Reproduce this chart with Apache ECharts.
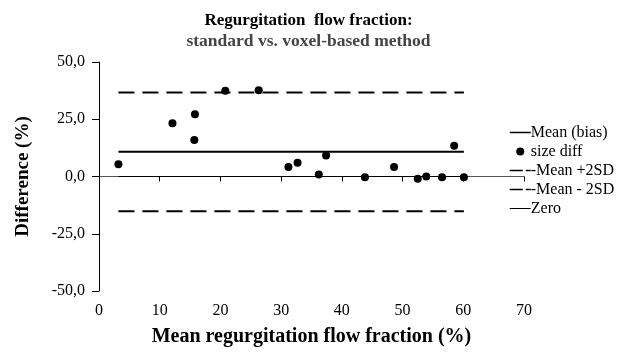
<!DOCTYPE html>
<html>
<head>
<meta charset="utf-8">
<script src="https://cdn.jsdelivr.net/npm/echarts@6/dist/echarts.min.js"></script>
<style>
  html, body { margin: 0; padding: 0; background: #fff; }
  #chart { width: 617px; height: 352px; }
</style>
</head>
<body>
<div id="chart"></div>
<script>
// mean of both methods (x) vs difference (y)
var meanFraction = [3.2, 12.1, 15.8, 15.7, 20.8, 26.3, 31.2, 32.7, 36.2, 37.4, 43.8, 48.6, 52.5, 53.9, 56.5, 58.5, 60.1]
var sizeDiff = [5.3, 23.2, 27.2, 15.9, 37.4, 37.7, 4.2, 6.0, 0.9, 9.2, -0.3, 4.2, -1.0, 0.0, -0.3, 13.4, -0.3]

// reference lines
var lineRange = [3.2, 60.1]
var meanBias = 10.8
var upperLimit = 36.7
var lowerLimit = -15.2
var zeroLevel = 0

var xTicks = { min: 0, max: 70, step: 10 }
var yTicks = { min: -50, max: 50, step: 25 }

var serif = '"Liberation Serif", "DejaVu Serif", serif'

function hLine(y) {
  return [[lineRange[0], y], [lineRange[1], y]]
}

var hidden = { opacity: 0 }

var chart = echarts.init(document.getElementById('chart'))

var option = {
  animation: false,
  title: {
    text: 'Regurgitation  flow fraction:',
    subtext: 'standard vs. voxel-based method',
    left: 'center',
    top: 7,
    itemGap: 3,
    textStyle: { fontFamily: serif, fontSize: 17, fontWeight: 'bold', color: '#000' },
    subtextStyle: { fontFamily: serif, fontSize: 17.5, fontWeight: 'bold', color: '#444' }
  },
  grid: { left: 99, right: 93, top: 62, bottom: 60 },
  legend: {
    orient: 'vertical',
    left: 504,
    top: 119,
    itemWidth: 21,
    itemHeight: 8,
    itemGap: 2,
    textStyle: { fontFamily: serif, fontSize: 16, color: '#000', padding: [0, 0, 0, -5], lineHeight: 17 },
    data: [
      { name: 'Mean (bias)', itemStyle: hidden, lineStyle: { width: 1.5 } },
      { name: 'size diff', icon: 'circle', itemStyle: { opacity: 1 } },
      { name: '-Mean +2SD', itemStyle: hidden, lineStyle: { type: [13, 3], width: 1.5 } },
      { name: '-Mean - 2SD', itemStyle: hidden, lineStyle: { type: [13, 3], width: 1.5 } },
      { name: 'Zero', itemStyle: hidden, lineStyle: { width: 1 } }
    ]
  },
  xAxis: {
    type: 'value',
    min: xTicks.min,
    max: xTicks.max,
    interval: xTicks.step,
    name: 'Mean regurgitation flow fraction (%)',
    nameLocation: 'middle',
    nameGap: 36,
    nameTextStyle: { fontFamily: serif, fontSize: 20, fontWeight: 'bold', color: '#000' },
    axisLine: { lineStyle: { color: '#555', width: 1 } },
    axisTick: { inside: false, length: 5, lineStyle: { color: '#000' } },
    axisLabel: { fontFamily: serif, fontSize: 16, color: '#000', margin: 12 },
    splitLine: { show: false }
  },
  yAxis: {
    type: 'value',
    min: yTicks.min,
    max: yTicks.max,
    interval: yTicks.step,
    name: 'Difference (%)',
    nameLocation: 'middle',
    nameGap: 66,
    nameTextStyle: { fontFamily: serif, fontSize: 19, fontWeight: 'bold', color: '#000' },
    axisLine: { show: true, lineStyle: { color: '#000', width: 1 } },
    axisTick: { show: true, inside: false, length: 7, lineStyle: { color: '#000' } },
    axisLabel: {
      fontFamily: serif, fontSize: 16, color: '#000', margin: 14,
      formatter: function (v) { return v.toFixed(1).replace('.', ',') }
    },
    splitLine: { show: false }
  },
  series: [
    {
      name: 'Mean (bias)',
      type: 'line',
      symbol: 'none',
      data: hLine(meanBias),
      itemStyle: { color: '#000' },
      lineStyle: { color: '#000', width: 2 }
    },
    {
      name: 'size diff',
      type: 'scatter',
      symbolSize: 8,
      data: meanFraction.map(function (x, i) { return [x, sizeDiff[i]] }),
      itemStyle: { color: '#000', opacity: 1 }
    },
    {
      name: '-Mean +2SD',
      type: 'line',
      symbol: 'none',
      data: hLine(upperLimit),
      itemStyle: { color: '#000' },
      lineStyle: { color: '#000', width: 2, type: [16, 8] }
    },
    {
      name: '-Mean - 2SD',
      type: 'line',
      symbol: 'none',
      data: hLine(lowerLimit),
      itemStyle: { color: '#000' },
      lineStyle: { color: '#000', width: 2, type: [16, 8] }
    },
    {
      name: 'Zero',
      type: 'line',
      symbol: 'none',
      data: hLine(zeroLevel),
      itemStyle: { color: '#000' },
      lineStyle: { color: '#000', width: 1 }
    }
  ]
}

chart.setOption(option)
</script>
</body>
</html>
